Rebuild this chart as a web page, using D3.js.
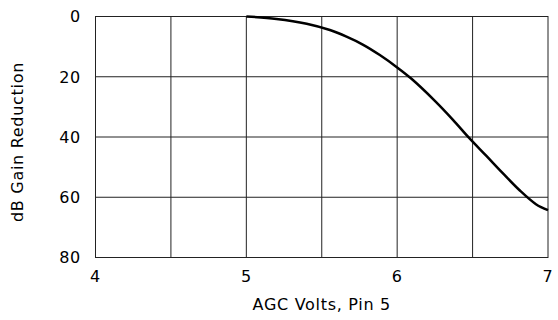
<html>
  <head>
    <script src="https://d3js.org/d3.v7.min.js"></script>
  </head>
  <style>
  body { margin: 0; background: #fff; }
  text { font-family: "DejaVu Sans", sans-serif; font-size: 16px; letter-spacing: 0.7px; fill: #000; }
  </style>
  <body>
    <svg id="chart" width="558" height="320"></svg>
    <script>
    // data
    const volts = [5.0, 5.2, 5.4, 5.554, 5.664, 5.775, 5.885, 6.0, 6.093, 6.25, 6.37, 6.477, 6.59, 6.70, 6.81, 6.92, 7.0];
    const gainReduction = [0, 0.8, 2.4, 4.5, 6.7, 9.4, 12.8, 16.9, 20.6, 28, 34.3, 40.3, 46.2, 52, 57.6, 62.3, 64.3];
    const xTicks = [4, 5, 6, 7];
    const xGrid = [4.5, 5, 5.5, 6, 6.5];
    const yTicks = [0, 20, 40, 60, 80];
    const xTitle = "AGC Volts, Pin 5";
    const yTitle = "dB Gain Reduction";

    const svg = d3.select("#chart");
    const pLeft = 95.5, pRight = 548, pTop = 16.5, pBottom = 257.5;

    const x = d3.scaleLinear().domain([4, 7]).range([pLeft, pRight]);
    const y = d3.scaleLinear().domain([0, 80]).range([pTop, pBottom]);

    // grid
    svg.selectAll("line.vgrid").data(xGrid).enter().append("line")
      .attr("class", "vgrid")
      .attr("x1", d => x(d)).attr("x2", d => x(d))
      .attr("y1", pTop).attr("y2", pBottom)
      .attr("stroke", "#222").attr("stroke-width", 1);
    svg.selectAll("line.hgrid").data(yTicks.slice(1, -1)).enter().append("line")
      .attr("class", "hgrid")
      .attr("x1", pLeft).attr("x2", pRight)
      .attr("y1", d => y(d)).attr("y2", d => y(d))
      .attr("stroke", "#222").attr("stroke-width", 1);
    svg.append("rect")
      .attr("x", pLeft).attr("y", pTop)
      .attr("width", pRight - pLeft).attr("height", pBottom - pTop)
      .attr("fill", "none").attr("stroke", "#222").attr("stroke-width", 1);

    // tick labels
    svg.selectAll("text.xt").data(xTicks).enter().append("text")
      .attr("class", "xt")
      .attr("x", d => x(d)).attr("y", 282)
      .attr("text-anchor", "middle")
      .text(d => d);
    svg.selectAll("text.yt").data(yTicks).enter().append("text")
      .attr("class", "yt")
      .attr("x", 81).attr("y", d => y(d))
      .attr("dy", "0.36em")
      .attr("text-anchor", "end")
      .text(d => d);

    // titles
    svg.append("text")
      .attr("x", (pLeft + pRight) / 2).attr("y", 310)
      .attr("text-anchor", "middle")
      .text(xTitle);
    svg.append("text")
      .attr("transform", "translate(23," + 142 + ") rotate(-90)")
      .attr("text-anchor", "middle")
      .text(yTitle);

    // curve
    const line = d3.line()
      .x((d, i) => x(volts[i]))
      .y(d => y(d))
      .curve(d3.curveCatmullRom.alpha(0.5));
    svg.append("path")
      .datum(gainReduction)
      .attr("d", line)
      .attr("fill", "none")
      .attr("stroke", "#000")
      .attr("stroke-width", 2.5);
    </script>
  </body>
</html>
